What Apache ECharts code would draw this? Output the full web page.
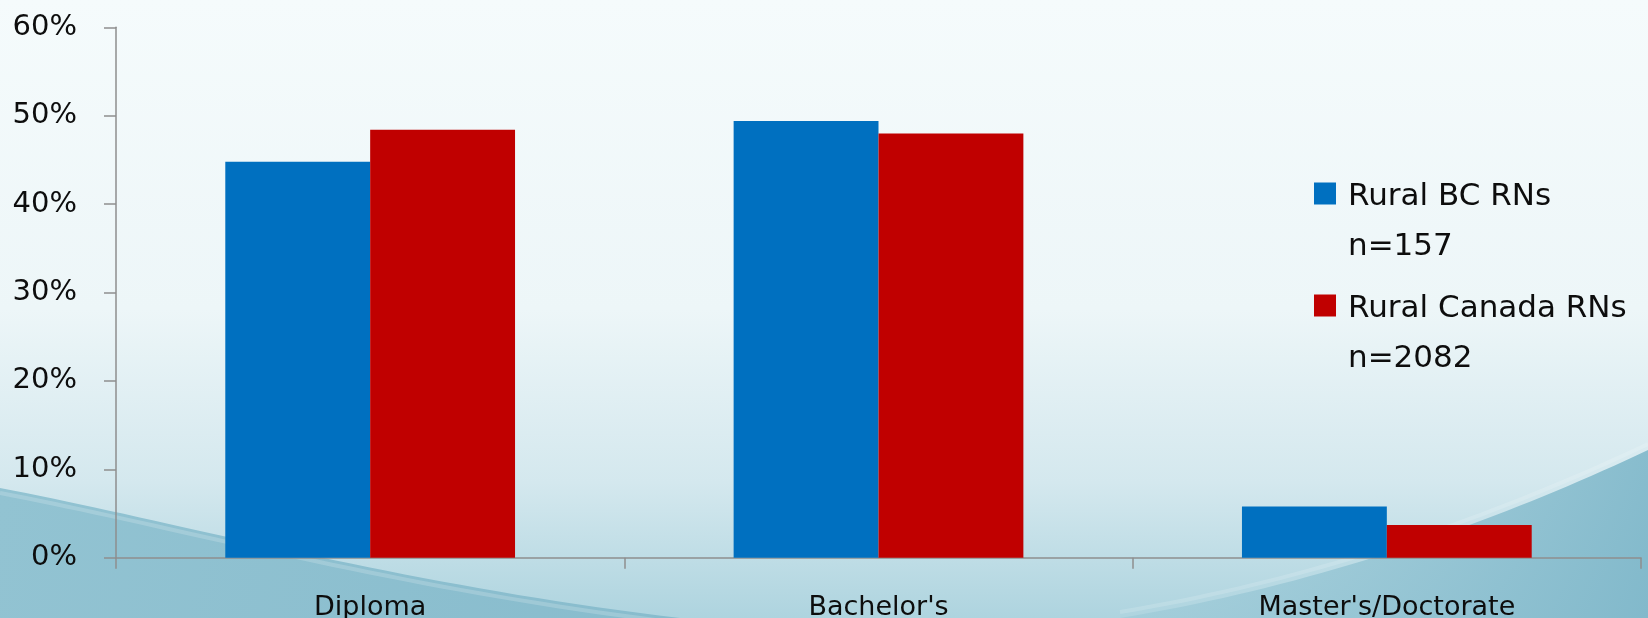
<!DOCTYPE html>
<html>
<head>
<meta charset="utf-8">
<script src="https://cdn.jsdelivr.net/npm/echarts@6/dist/echarts.min.js"></script>
<style>
  html, body { margin: 0; padding: 0; }
  #chart { width: 1648px; height: 618px; }
</style>
</head>
<body>
<div id="chart"></div>
<script>
// Highest level of nursing education, rural RNs (percent of respondents)
const categories = ['Diploma', "Bachelor's", "Master's/Doctorate"];
const seriesNames = ['Rural BC RNs', 'Rural Canada RNs'];
const sampleSizes = ['n=157', 'n=2082'];
const ruralBC = [44.8, 49.4, 5.8];
const ruralCanada = [48.4, 48.0, 3.7];
const seriesColors = ['#0070C0', '#C00000'];

const FONT = '"DejaVu Sans", Verdana, sans-serif';
const axisGrey = '#8E8E8E';
const textColor = '#0D0D0D';

const chart = echarts.init(document.getElementById('chart'), null, { renderer: 'canvas' });

// Points along a cubic curve, used for the decorative background swooshes
function curvePoints(p0, p1, p2, p3, steps) {
  const pts = [];
  for (let i = 0; i <= steps; i++) {
    const t = i / steps, u = 1 - t;
    pts.push([
      u * u * u * p0[0] + 3 * u * u * t * p1[0] + 3 * u * t * t * p2[0] + t * t * t * p3[0],
      u * u * u * p0[1] + 3 * u * u * t * p1[1] + 3 * u * t * t * p2[1] + t * t * t * p3[1]
    ]);
  }
  return pts;
}

const leftEdge = curvePoints([0, 488], [170, 520], [400, 585], [680, 618], 40);
const rightEdge = curvePoints([1120, 618], [1320, 585], [1500, 520], [1648, 450], 40);

// One legend block per series: swatch beside the name, sample size underneath.
// The leading spacer line keeps the name level with the swatch.
function legendFor(i, top) {
  return {
    data: [seriesNames[i]],
    left: 1314,
    top: top,
    padding: 0,
    icon: 'rect',
    itemWidth: 22,
    itemHeight: 22,
    formatter: name =>
      '{gap|}\n{main|' + name + '}\n{main|' + sampleSizes[seriesNames.indexOf(name)] + '}',
    textStyle: {
      fontFamily: FONT,
      fontSize: 31,
      color: textColor,
      padding: [0, 0, 0, 7],
      rich: {
        gap: { lineHeight: 56, fontSize: 31 },
        main: { fontFamily: FONT, fontSize: 31, lineHeight: 50, color: textColor }
      }
    }
  };
}

chart.setOption({
  animation: false,
  backgroundColor: {
    type: 'linear', x: 0, y: 0, x2: 0, y2: 1,
    colorStops: [
      { offset: 0, color: '#F5FBFC' },
      { offset: 0.5, color: '#EDF6F8' },
      { offset: 0.78, color: '#D4E8EE' },
      { offset: 1, color: '#AED4DF' }
    ]
  },
  graphic: [
    {
      type: 'polygon', z: -10, silent: true,
      shape: { points: leftEdge.concat([[0, 618]]) },
      style: {
        fill: {
          type: 'linear', x: 0, y: 0, x2: 1, y2: 1,
          colorStops: [
            { offset: 0, color: '#92C3D2' },
            { offset: 1, color: '#88BCCD' }
          ]
        }
      }
    },
    {
      type: 'polyline', z: -10, silent: true,
      shape: { points: leftEdge.map(p => [p[0], p[1] + 5]) },
      style: { stroke: 'rgba(255,255,255,0.18)', lineWidth: 4 }
    },
    {
      type: 'polygon', z: -10, silent: true,
      shape: { points: rightEdge.concat([[1648, 618]]) },
      style: {
        fill: {
          type: 'linear', x: 0, y: 0, x2: 1, y2: 1,
          colorStops: [
            { offset: 0, color: 'rgba(160,204,217,0.6)' },
            { offset: 1, color: '#82B9CB' }
          ]
        }
      }
    },
    {
      type: 'polyline', z: -10, silent: true,
      shape: { points: rightEdge.map(p => [p[0], p[1] - 6]) },
      style: { stroke: 'rgba(255,255,255,0.15)', lineWidth: 4 }
    }
  ],
  legend: [legendFor(0, 128), legendFor(1, 240)],
  grid: {
    left: 116,
    right: 7,
    top: 27.3,
    bottom: 60.3,
    containLabel: false,
    outerBoundsMode: 'none'
  },
  xAxis: {
    type: 'category',
    data: categories,
    boundaryGap: true,
    axisLine: { lineStyle: { color: axisGrey, width: 1.5 } },
    axisTick: { show: true, length: 11, alignWithLabel: false, lineStyle: { color: axisGrey, width: 1.5 } },
    axisLabel: { fontFamily: FONT, fontSize: 27, color: textColor, margin: 37 },
    splitLine: { show: false }
  },
  yAxis: {
    type: 'value',
    min: 0,
    max: 60,
    interval: 10,
    axisLine: { show: true, lineStyle: { color: axisGrey, width: 1.5 } },
    axisTick: { show: true, length: 12, lineStyle: { color: axisGrey, width: 1.5 } },
    axisLabel: {
      fontFamily: FONT, fontSize: 29, color: textColor, margin: 39,
      formatter: v => v + '%'
    },
    splitLine: { show: false }
  },
  series: [
    {
      name: seriesNames[0], type: 'bar', data: ruralBC,
      itemStyle: { color: seriesColors[0] },
      barGap: '0%', barCategoryGap: '43%'
    },
    {
      name: seriesNames[1], type: 'bar', data: ruralCanada,
      itemStyle: { color: seriesColors[1] },
      barGap: '0%', barCategoryGap: '43%'
    }
  ]
});
</script>
</body>
</html>
